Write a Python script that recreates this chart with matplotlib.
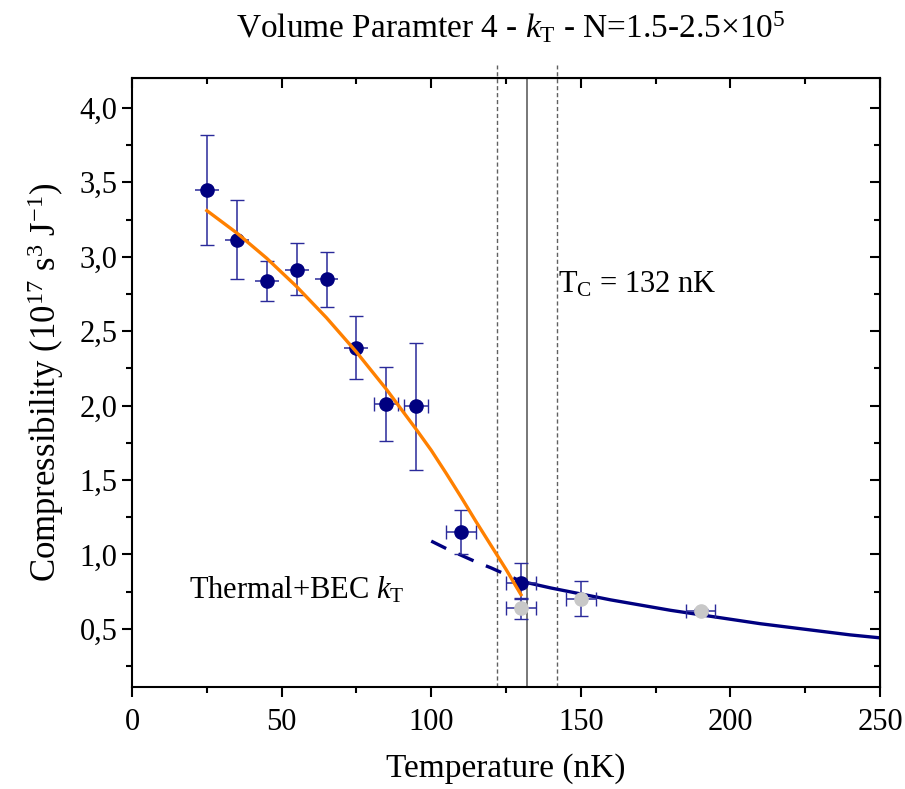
import numpy as np
import matplotlib
matplotlib.use('Agg')
import matplotlib.pyplot as plt
from matplotlib.ticker import MultipleLocator, FuncFormatter

plt.rcParams['font.family'] = ['Liberation Serif', 'DejaVu Serif']
plt.rcParams['mathtext.fontset'] = 'custom'
plt.rcParams['mathtext.rm'] = 'Liberation Serif'
plt.rcParams['mathtext.it'] = 'Liberation Serif:italic'

# data points (BEC region), nK and 10^17 s^3 J^-1
T_blue = [25, 35, 45, 55, 65, 75, 85, 95, 110, 130]
k_blue = [3.45, 3.11, 2.84, 2.91, 2.85, 2.39, 2.01, 2.00, 1.15, 0.81]
k_blue_lo = [3.08, 2.85, 2.70, 2.74, 2.66, 2.18, 1.76, 1.57, 1.00, 0.70]
k_blue_hi = [3.82, 3.38, 2.97, 3.09, 3.03, 2.60, 2.26, 2.42, 1.30, 0.94]
T_blue_err = [4, 4, 4, 4, 4, 4, 4, 4, 5, 5]
x_caps = [False, False, False, False, False, False, True, True, True, True]

# grey points (thermal)
T_grey = [130, 150, 190]
k_grey = [0.64, 0.70, 0.62]
k_grey_lo = [0.57, 0.59, 0.605]
k_grey_hi = [0.71, 0.82, 0.635]
T_grey_err = [5, 5, 5]

# orange fit
T_fit = [25, 35, 45, 55, 65, 75, 85, 95, 100, 105, 110, 115, 120, 125, 130]
k_fit = [3.31, 3.16, 2.99, 2.80, 2.59, 2.36, 2.11, 1.84, 1.70, 1.545, 1.385,
         1.22, 1.06, 0.90, 0.73]

# thermal+BEC model
T_dash = [100, 105, 110, 115, 120, 125, 130]
k_dash = [1.09, 1.04, 0.995, 0.95, 0.91, 0.865, 0.82]
T_model = [130, 140, 150, 160, 170, 180, 190, 200, 210, 220, 230, 240, 250]
k_model = [0.82, 0.775, 0.735, 0.695, 0.66, 0.625, 0.595, 0.565, 0.535, 0.51,
           0.485, 0.46, 0.44]

Tc = 132
Tc_lo, Tc_hi = 122, 142

navy = '#000080'
bar_col = '#2a2a9a'

fig = plt.figure(figsize=(9.05, 7.89), dpi=100)
ax = fig.add_axes([0.1459, 0.1293, 0.8265, 0.7717])

ax.plot(T_dash, k_dash, color=navy, lw=2.4, ls=(0, (5, 4)))
ax.plot(T_model, k_model, color=navy, lw=2.4)

# grey points
ax.errorbar(T_grey, k_grey,
            yerr=[np.subtract(k_grey, k_grey_lo), np.subtract(k_grey_hi, k_grey)],
            xerr=T_grey_err, fmt='o', color='#c8c8c8', ms=9.5, ecolor=bar_col,
            elinewidth=1.1, capsize=5, zorder=3)

# blue points: vertical bars with caps, horizontal bars with caps only on some
ax.errorbar(T_blue, k_blue,
            yerr=[np.subtract(k_blue, k_blue_lo), np.subtract(k_blue_hi, k_blue)],
            fmt='none', ecolor=bar_col, elinewidth=1.1, capsize=5, zorder=3)
for t, k, e, c in zip(T_blue, k_blue, T_blue_err, x_caps):
    ax.errorbar([t], [k], xerr=[e], fmt='none', ecolor=bar_col, elinewidth=1.1,
                capsize=5 if c else 0, zorder=3)
ax.plot(T_blue, k_blue, 'o', color=navy, ms=9.5, zorder=4)

ax.plot(T_fit, k_fit, color='#ff8000', lw=2.4, zorder=5)

ax.axvline(Tc, color='#606060', lw=1.2, zorder=1)
for t in (Tc_lo, Tc_hi):
    ax.plot([t, t], [0.11, 4.29], color='#606060', lw=1, ls=(0, (3, 2)),
            clip_on=False, zorder=1)

ax.text(142.5, 2.81, r'T$_\mathrm{C}$ = 132 nK', fontsize=22, va='center')
ax.text(19, 0.76, r'Thermal+BEC $k_\mathrm{T}$', fontsize=22, va='center')

ax.set_xlim(0, 250)
ax.set_ylim(0.11, 4.2)
ax.xaxis.set_major_locator(MultipleLocator(50))
ax.xaxis.set_minor_locator(MultipleLocator(25))
ax.yaxis.set_major_locator(MultipleLocator(0.5))
ax.yaxis.set_minor_locator(MultipleLocator(0.25))
ax.yaxis.set_major_formatter(FuncFormatter(lambda v, p: f'{v:.1f}'.replace('.', ',')))
ax.tick_params(which='both', direction='out', top=False, right=False, width=1.5,
               labelsize=22)
ax.tick_params(which='major', length=7)
ax.tick_params(which='minor', length=4)
ax.tick_params(axis='x', pad=8)
for spine in ax.spines.values():
    spine.set_linewidth(1.5)

top = ax.secondary_xaxis('top')
top.xaxis.set_major_locator(MultipleLocator(50))
top.xaxis.set_minor_locator(MultipleLocator(25))
top.tick_params(which='both', direction='in', labeltop=False, width=1.5)
top.tick_params(which='major', length=7)
top.tick_params(which='minor', length=4)
right = ax.secondary_yaxis('right')
right.yaxis.set_major_locator(MultipleLocator(0.5))
right.yaxis.set_minor_locator(MultipleLocator(0.25))
right.tick_params(which='both', direction='in', labelright=False, width=1.5)
right.tick_params(which='major', length=7)
right.tick_params(which='minor', length=4)

ax.set_xlabel('Temperature (nK)', fontsize=24, labelpad=12)
ax.set_ylabel(r'Compressibility (10$^{17}$ s$^{3}$ J$^{-1}$)', fontsize=25, labelpad=10)
fig.text(0.564, 0.965, r'Volume Paramter 4 - $k_\mathrm{T}$ - N=1.5-2.5$\times$10$^{5}$',
         ha='center', va='center', fontsize=24)

fig.savefig('out.png', dpi=100)
